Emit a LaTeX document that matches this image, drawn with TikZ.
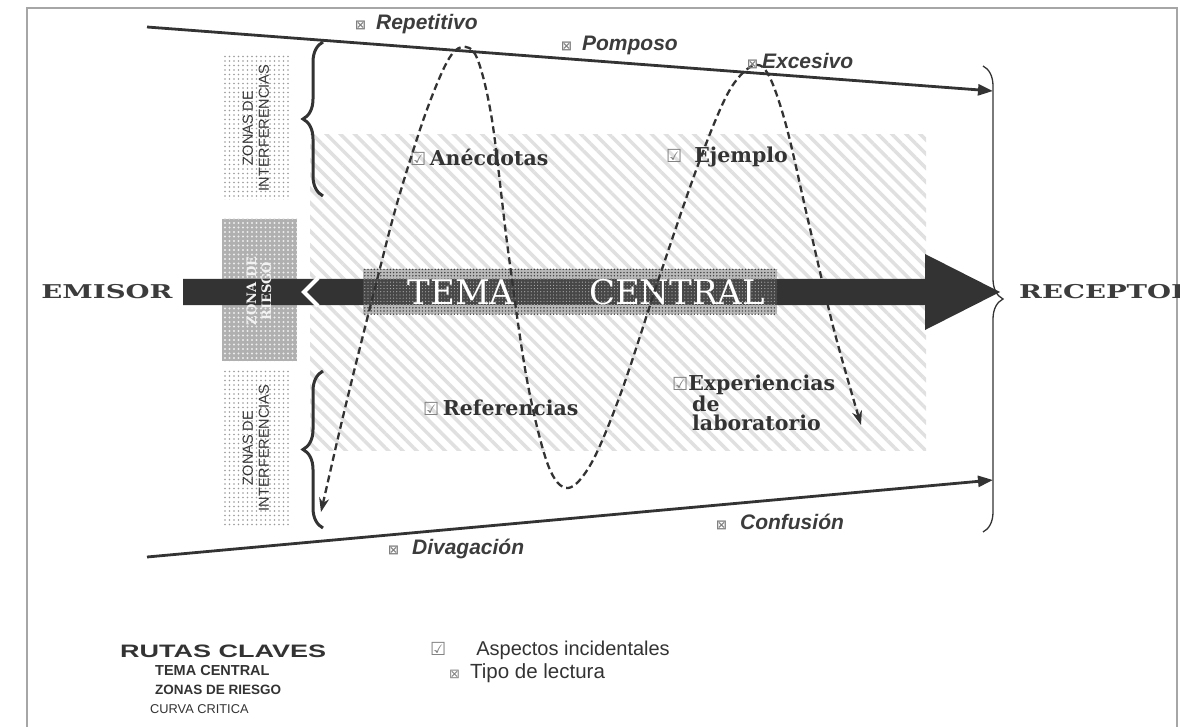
\documentclass[tikz,border=0pt]{standalone}
\usepackage{fontspec}
\usepackage{graphicx}
\setmainfont{DejaVu Serif}
\newfontfamily\sansf{Liberation Sans}
\newfontfamily\symf{DejaVu Sans}
\usetikzlibrary{patterns,patterns.meta,decorations.pathreplacing,arrows.meta}
\definecolor{ink}{HTML}{333333}
\definecolor{txt}{HTML}{3C3C3C}
\newcommand{\xbx}{{\symf\fontsize{13}{13}\selectfont\textcolor{gray}{⊠}}}
\newcommand{\cbx}{{\symf\fontsize{18}{18}\selectfont\textcolor{gray}{☑}}}
\begin{document}
\begin{tikzpicture}[x=1pt,y=-1pt,
  lbl/.style={font=\sansf\bfseries\itshape\fontsize{21}{22}\selectfont, text=txt, inner sep=0pt, anchor=west},
  item/.style={font=\bfseries\fontsize{20.5}{18.5}\selectfont, text=ink, inner sep=0pt, anchor=west},
  ends/.style={font=\bfseries\fontsize{19}{20}\selectfont, text=txt, inner sep=0pt},
  funnel/.style={draw=ink, line width=2.8pt, -{Triangle[length=15pt,width=11pt]}},
  lbrace/.style={draw=ink, line width=3pt, decorate, decoration={brace, amplitude=20pt}},
  dotbox/.style={pattern={Dots[radius=0.9pt,distance=4.5pt]}, pattern color=gray!80},
  rottxt/.style={rotate=90, align=center, text=ink, inner sep=0pt, font=\sansf\fontsize{14.5}{16}\selectfont},
  curve/.style={draw=ink, line width=2.3pt, dash pattern=on 7pt off 4pt, {Stealth[length=14pt,width=10pt]}-{Stealth[length=14pt,width=10pt]}},
  leg/.style={anchor=west, inner sep=0pt, text=ink}
]
\useasboundingbox (0,0) rectangle (1180,727);
% frame
\draw[gray!70, line width=1.8pt] (27,727) -- (27,8) -- (1177,8) -- (1177,727);

% hatched zone
\path[pattern={Lines[angle=-45,distance=10pt,line width=3.5pt]}, pattern color=gray!24] (310,135) rectangle (926,450);

% side boxes
\path[dotbox] (222,56) rectangle (290,200);
\path[dotbox] (222,370) rectangle (290,525);
\fill[gray!62] (222,219) rectangle (297,361);
\path[pattern={Dots[radius=1.1pt,distance=4.5pt]}, pattern color=white!85!gray] (222,219) rectangle (297,361);

\node[rottxt] (z1) at (256,128) {ZONAS DE\\INTERFERENCIAS};
\node[rottxt] (z2) at (256,448) {ZONAS DE\\INTERFERENCIAS};

% braces
\draw[lbrace] (323,196) -- (323,42);
\draw[lbrace] (323,528) -- (323,371);
\draw[draw=ink, line width=1.3pt, decorate, decoration={brace, amplitude=20pt}] (983,66) -- (983,532);

% main arrow
\fill[ink] (183,279) -- (925,279) -- (925,254) -- (1000,292) -- (925,330) -- (925,305) -- (183,305) -- cycle;
\node[rottxt, text=white!90!gray, font=\bfseries\fontsize{13}{15}\selectfont] (z3) at (259,291) {ZONA DE\\RIESGO};
\draw[white, line width=4pt] (318,278) -- (304,292) -- (318,306);

% tema central band
\fill[gray!55] (363,269) rectangle (777,314);
\path[pattern={Dots[radius=0.8pt,distance=3.2pt]}, pattern color=black!75] (363,269) rectangle (777,314);
\fill[black!72] (363,279) rectangle (777,305);
\path[pattern={Dots[radius=0.6pt,distance=3.2pt]}, pattern color=gray!60] (363,279) rectangle (777,305);
\node[font=\fontsize{34}{34}\selectfont, text=white, inner sep=0pt] (tema) at (461,292) {TEMA};
\node[font=\fontsize{34}{34}\selectfont, text=white, inner sep=0pt] (central) at (677,292) {CENTRAL};

% emisor / receptor
\node[ends] (emisor) at (107,292) {\scalebox{1.45}[1]{EMISOR}};
\node[ends, anchor=west] (receptor) at (1019,292) {\scalebox{1.45}[1]{RECEPTOR}};

% aspects
\node[item] (anec) at (410,157) {\cbx\,Anécdotas};
\node[item] (ejem) at (666,157) {\cbx\hspace{12pt}Ejemplo};
\node[item] (refe) at (423,408) {\cbx\,Referencias};
\node[item, anchor=north west, align=left] (expe) at (672,375) {\cbx Experiencias\\\hspace{20pt}de\\\hspace{20pt}laboratorio};

% funnel lines
\coordinate (t0) at (147,27); \coordinate (t1) at (993,91);
\coordinate (b0) at (147,557); \coordinate (b1) at (993,480);
\draw[funnel] (t0) -- (t1);
\draw[funnel] (b0) -- (b1);

% critical curve
\draw[curve] plot[smooth, tension=0.55] coordinates {(321,512) (347,400) (377,280) (398,200) (425,115) (447,62) (462,47) (477,58) (492,120) (508,250) (527,380) (548,465) (568,488) (592,462) (622,390) (660,275) (698,165) (728,93) (752,66) (768,74) (786,125) (808,220) (834,330) (861,425)};

% reading type labels
\node[lbl] (rep) at (355,24) {\xbx\hspace{10pt}Repetitivo};
\node[lbl] (pom) at (561,45) {\xbx\hspace{10pt}Pomposo};
\node[lbl] (exc) at (747,61) {\xbx\hspace{4pt}Excesivo};
\node[lbl] (div) at (388,549) {\xbx\hspace{13pt}Divagación};
\node[lbl] (con) at (716,522) {\xbx\hspace{13pt}Confusión};

% legend
\node[leg, font=\sansf\bfseries\fontsize{18}{20}\selectfont] (rutas) at (120,651) {\scalebox{1.5}[1]{RUTAS CLAVES}};
\node[leg, font=\sansf\bfseries\fontsize{14.5}{16}\selectfont] (ltema) at (155,671) {TEMA CENTRAL};
\node[leg, font=\sansf\bfseries\fontsize{13.5}{15}\selectfont] (lzona) at (155,690) {ZONAS DE RIESGO};
\node[leg, font=\sansf\fontsize{12.8}{14}\selectfont] (lcurva) at (150,709) {CURVA CRITICA};
\node[leg, font=\sansf\fontsize{20}{21}\selectfont] (lasp) at (430,650) {\cbx\hspace{30pt}Aspectos incidentales};
\node[leg, font=\sansf\fontsize{20.5}{21}\selectfont] (ltipo) at (449,673) {\xbx\hspace{10pt}Tipo de lectura};
\end{tikzpicture}
\end{document}
